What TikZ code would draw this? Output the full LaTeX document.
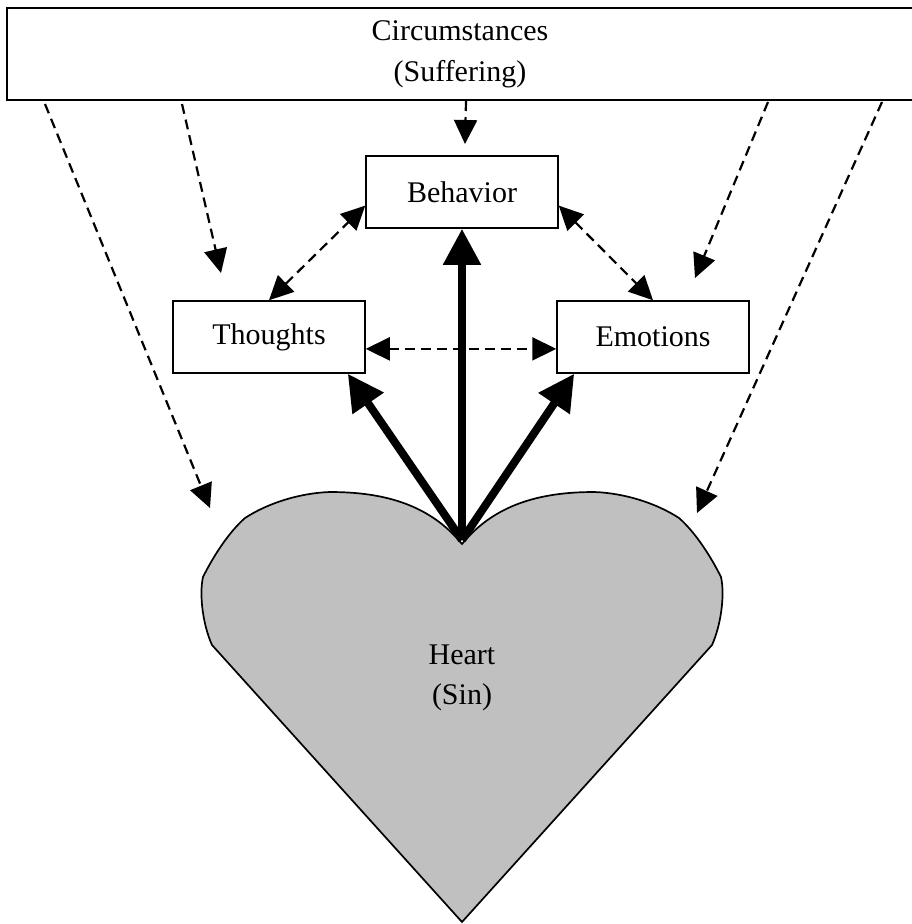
\documentclass[tikz,border=0pt]{standalone}
\usepackage{fontspec}
\setmainfont{Liberation Serif}
\usetikzlibrary{arrows.meta}
\begin{document}
\begin{tikzpicture}[x=1pt, y=-1pt,
  box/.style={draw, line width=1.5pt, fill=white, align=center,
    minimum width=192pt, minimum height=72pt, font=\fontsize{30}{41}\selectfont},
  infl/.style={-{Triangle[length=24pt,width=23pt]}, line width=2.2pt, dash pattern=on 10pt off 6pt},
  mutual/.style={{Triangle[length=24pt,width=23pt]}-{Triangle[length=24pt,width=23pt]}, line width=2.2pt, dash pattern=on 10pt off 6pt},
  drive/.style={-{Triangle[length=36pt,width=36pt]}, line width=8pt}]
\useasboundingbox (0,0) rectangle (911,924);
% heart
\draw[line width=1.7pt, fill={rgb,255:red,192;green,192;blue,192}]
  (462,922) -- (712,645) .. controls (721,625) and (725,595) .. (721,577)
  .. controls (711,557) and (696,533) .. (679,518)
  .. controls (656,503) and (624,493) .. (594,492)
  .. controls (539,492) and (494,505) .. (462,544)
  .. controls (430,505) and (385,492) .. (330,492)
  .. controls (300,493) and (268,503) .. (245,518)
  .. controls (228,533) and (213,557) .. (203,577)
  .. controls (199,595) and (203,625) .. (212,645) -- cycle;
\node[align=center, font=\fontsize{30}{40}\selectfont] (heart) at (462,678) {Heart\\(Sin)};
\coordinate (notch) at (462,540);
% boxes
\node[box, minimum width=906pt, minimum height=92pt] (circ) at (460,54) {Circumstances\\(Suffering)};
\node[box] (beh) at (462,192) {Behavior};
\node[box] (tho) at (269,337) {Thoughts};
\node[box] (emo) at (653,337) {Emotions};
% influence of circumstances
\coordinate (c1) at (45,104);  \coordinate (h1) at (210,508);
\coordinate (c2) at (182,104); \coordinate (t1) at (221,273);
\coordinate (c3) at (466,101); \coordinate (b1) at (465,144);
\coordinate (c4) at (768,102); \coordinate (e1) at (695,278);
\coordinate (c5) at (882,102); \coordinate (h2) at (697,513);
\draw[infl] (c1) -- (h1);
\draw[infl] (c2) -- (t1);
\draw[infl] (c3) -- (b1);
\draw[infl] (c4) -- (e1);
\draw[infl] (c5) -- (h2);
% mutual links
\draw[mutual] (tho.north) -- (beh.188);
\draw[mutual] (beh.-8) -- (emo.north);
\draw[mutual] (tho.-7) -- (emo.187);
% heart drives
\draw[drive] (notch) -- (beh.south);
\draw[drive] (notch) -- (tho.-25);
\draw[drive] (notch) -- (emo.205);
\end{tikzpicture}
\end{document}
